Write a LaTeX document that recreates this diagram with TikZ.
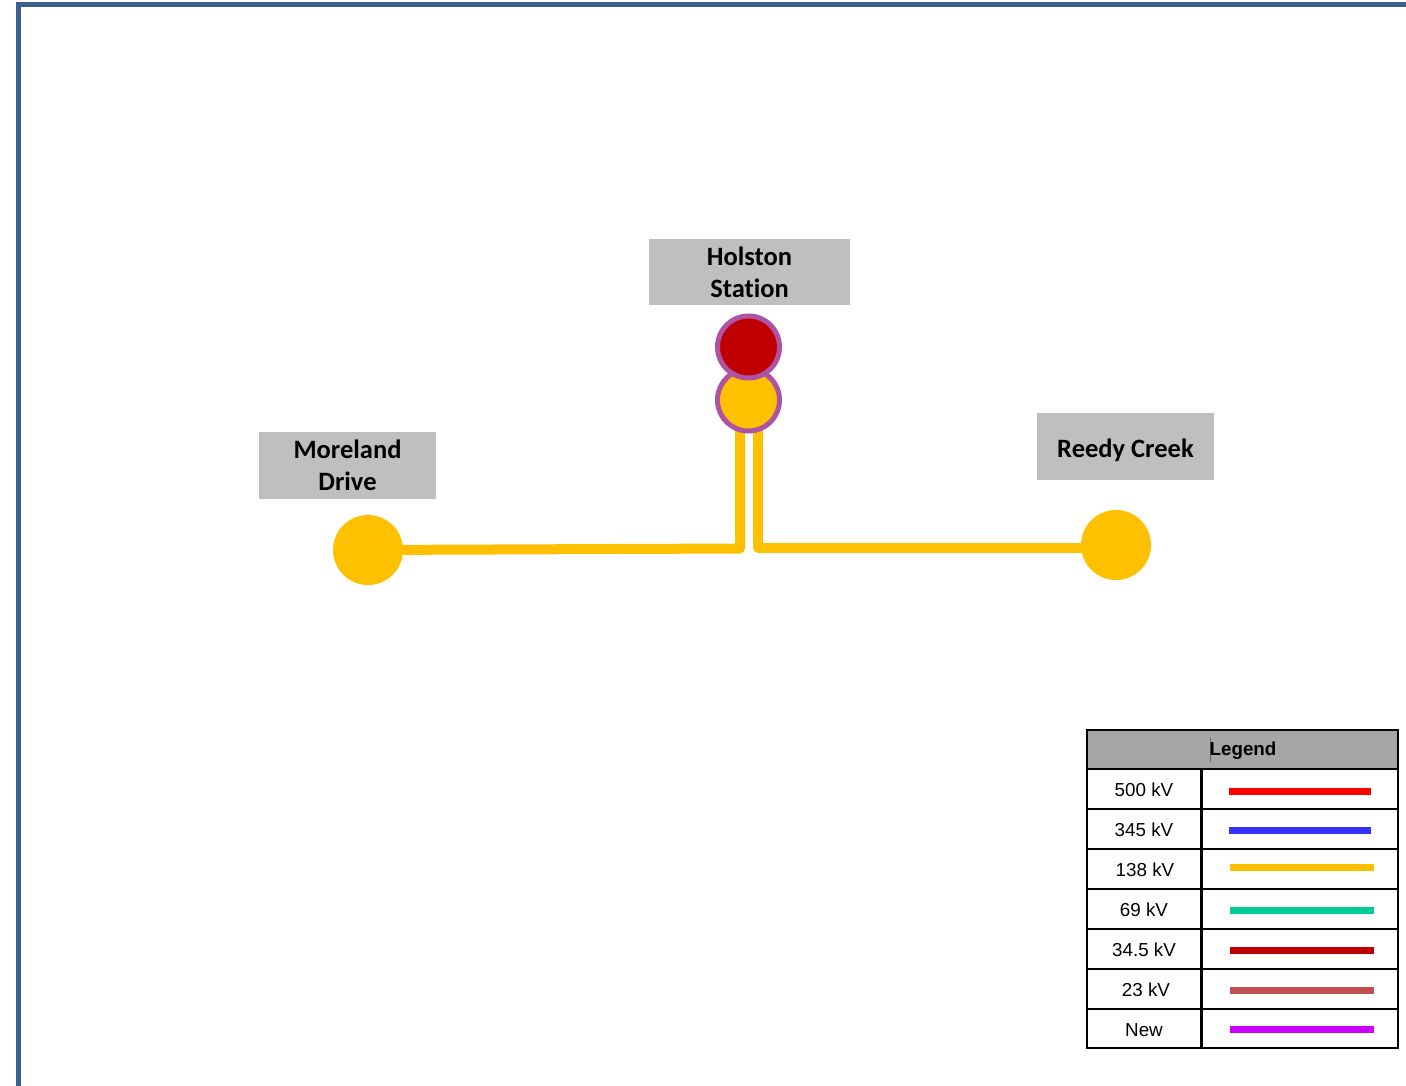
\documentclass[tikz,border=0pt]{standalone}
\usepackage{fontspec}
\setmainfont{Carlito}[Ligatures=NoCommon]
\newfontfamily\arialfont{Liberation Sans}
\definecolor{framec}{HTML}{3C5F8F}
\definecolor{lblgray}{HTML}{BFBFBF}
\definecolor{hdrgray}{HTML}{A6A6A6}
\definecolor{kvyellow}{HTML}{FFC000}
\definecolor{kvred}{HTML}{C00000}
\definecolor{ringc}{HTML}{AE52A4}
\definecolor{lgred}{HTML}{FF0000}
\definecolor{lgblue}{HTML}{3333FF}
\definecolor{lggreen}{HTML}{00CC99}
\definecolor{lg23}{HTML}{C0504D}
\definecolor{lgnew}{HTML}{CC00FF}
\tikzset{
  lbl/.style={fill=lblgray, inner sep=0pt, font=\fontsize{26.5}{32}\selectfont\bfseries, align=center, text=black},
  sub/.style={circle, fill=kvyellow, minimum size=70pt, inner sep=0pt},
  busring/.style={circle, draw=ringc, line width=5pt, minimum size=62pt, inner sep=0pt},
  feeder/.style={draw=kvyellow, line width=10pt, line join=round, line cap=round},
  lgtxt/.style={font=\arialfont\fontsize{18.8}{22}\selectfont, text=black},
  lgline/.style={line width=7pt}
}
\begin{document}
\begin{tikzpicture}[x=1pt,y=-1pt]
\useasboundingbox (0,0) rectangle (1406,1086);
% frame
\draw[framec, line width=5pt] (18.5,1090) -- (18.5,4.5) -- (1410,4.5);

% labels
\node[lbl, minimum width=201pt, minimum height=66pt] (holstonlbl) at (749.5,272) {Holston\\Station};
\node[lbl, minimum width=177pt, minimum height=67pt] (morelandlbl) at (347.5,465.5) {Moreland\\Drive};
\node[lbl, minimum width=177pt, minimum height=67pt, text depth=0pt] (reedylbl) at (1125.5,446.5) {\raisebox{-3pt}{Reedy Creek}};

% coordinates for feeders
\coordinate (lt) at (740,420);
\coordinate (lc) at (740,548.5);
\coordinate (rt) at (758,420);
\coordinate (rc) at (758,547.5);

% substations
\node[sub] (moreland) at (368,550) {};
\node[sub] (reedy) at (1116,545) {};

\draw[feeder] (lt) -- (lc) -- (moreland.center);
\draw[feeder] (rt) -- (rc) -- (reedy.center |- rc);

% Holston buses
\node[busring, fill=kvyellow] (hyellow) at (748.5,400) {};
\node[busring, fill=kvred] (hred) at (748.5,347) {};

% legend
\fill[hdrgray] (1087,730) rectangle (1398,769);
\draw[black, line width=2.5pt] (1087,730) rectangle (1398,1048);
\foreach \yy in {769,809,849,889,929,969,1009}
  \draw[black, line width=2.5pt] (1087,\yy) -- (1398,\yy);
\draw[black, line width=2.5pt] (1201.5,769) -- (1201.5,1048);
\draw[black!60, line width=1pt] (1210,738) -- (1210,762);
\node[font=\arialfont\bfseries\fontsize{18.8}{22}\selectfont, text=black] (lghdr) at (1243,750.5) {Legend};
\node[lgtxt] (t1) at (1144,790) {500 kV};
\node[lgtxt] (t2) at (1144,830) {345 kV};
\node[lgtxt] (t3) at (1145,870) {138 kV};
\node[lgtxt] (t4) at (1144,910) {69 kV};
\node[lgtxt] (t5) at (1144,950) {34.5 kV};
\node[lgtxt] (t6) at (1146,990) {23 kV};
\node[lgtxt] (t7) at (1144,1030) {New};
\draw[lgline, lgred] (1229,791) -- (1371,791);
\draw[lgline, lgblue] (1229,830) -- (1371,830);
\draw[lgline, kvyellow] (1230,867) -- (1374,867);
\draw[lgline, lggreen] (1230,910.5) -- (1374,910.5);
\draw[lgline, kvred] (1230,950.5) -- (1374,950.5);
\draw[lgline, lg23] (1230,990) -- (1374,990);
\draw[lgline, lgnew] (1230,1029) -- (1374,1029);
\end{tikzpicture}
\end{document}
